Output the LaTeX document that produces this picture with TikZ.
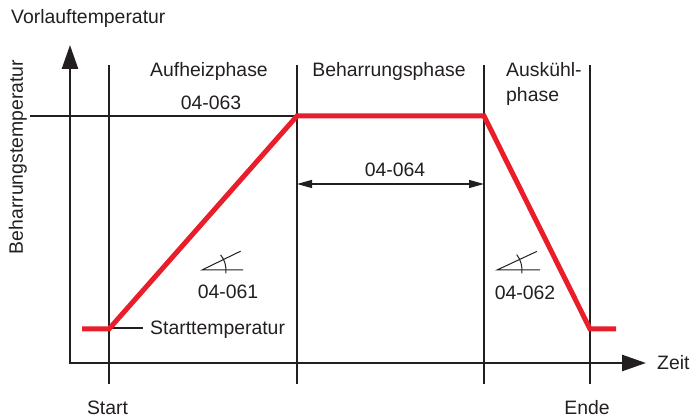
\documentclass[tikz,border=0pt]{standalone}
\usepackage{fontspec}
\setmainfont{Liberation Sans}
\usetikzlibrary{arrows.meta}
\definecolor{profred}{RGB}{232,30,42}
\definecolor{ink}{RGB}{35,31,32}
\begin{document}
\begin{tikzpicture}[x=1pt,y=-1pt,
  lbl/.style={inner sep=0pt, text=ink, font=\fontsize{19.4}{23}\selectfont, anchor=base},
  thinline/.style={draw=ink, line width=1.2pt},
  axisline/.style={draw=ink, line width=2.6pt, line join=miter,
    {Triangle[length=24pt,width=16pt]}-{Triangle[length=24pt,width=16pt]}},
  profile/.style={draw=profred, line width=5pt, line join=miter},
  dimline/.style={draw=ink, line width=1.2pt,
    {Triangle[length=15pt,width=8pt]}-{Triangle[length=15pt,width=8pt]}},
  anglesym/.style={draw=ink, line width=1pt},
]
\useasboundingbox (0,0) rectangle (691,419);

% axes
\coordinate (O) at (70,363);
\coordinate (Ytip) at (70,45);
\coordinate (Xtip) at (646,363);
\draw[axisline] (Ytip) -- (O) -- (Xtip);

% vertical phase lines
\coordinate (v1t) at (109,65);  \coordinate (v1b) at (109,384);
\coordinate (v2t) at (297,65);  \coordinate (v2b) at (297,384);
\coordinate (v3t) at (484,65);  \coordinate (v3b) at (484,384);
\coordinate (v4t) at (590,65);  \coordinate (v4b) at (590,384);
\draw[thinline] (v1t) -- (v1b);
\draw[thinline] (v2t) -- (v2b);
\draw[thinline] (v3t) -- (v3b);
\draw[thinline] (v4t) -- (v4b);

% Beharrungstemperatur level line
\coordinate (hl) at (30,116);
\coordinate (hr) at (297,116);
\draw[thinline] (hl) -- (hr);

% 04-064 dimension arrow
\coordinate (d1) at (297,184);
\coordinate (d2) at (484,184);
\draw[dimline] (d1) -- (d2);

% Starttemperatur leader
\coordinate (s1) at (109,328);
\coordinate (s2) at (143,328);
\draw[thinline] (s1) -- (s2);

% red profile
\coordinate (r0) at (82,329);
\coordinate (r1) at (109,329);
\coordinate (r2) at (297,116);
\coordinate (r3) at (484,116);
\coordinate (r4) at (590,329);
\coordinate (r5) at (616,329);
\draw[profile] (r0) -- (r1) -- (r2) -- (r3) -- (r4) -- (r5);

% angle symbols (y axis points down, so angles are mirrored)
\coordinate (a1) at (202,270);
\draw[anglesym] (243,270) -- (a1) -- +(-26:43);
\draw[anglesym] (a1) ++(8:24) arc[start angle=8, end angle=-39, radius=24];
\coordinate (a2) at (497,270);
\draw[anglesym] (540,270) -- (a2) -- +(-25:44);
\draw[anglesym] (a2) ++(8:25) arc[start angle=8, end angle=-38, radius=25];

% texts
\node[lbl, anchor=base west] (vt) at (11,24) {Vorlauftemperatur};
\node[lbl, rotate=90] (bt) at (23,157) {Beharrungstemperatur};
\node[lbl] (auf) at (209,77) {Aufheizphase};
\node[lbl] (n063) at (211,110) {04-063};
\node[lbl] (beh) at (389,77) {Beharrungsphase};
\node[lbl, anchor=base west] (aus1) at (506,77) {Auskühl-};
\node[lbl, anchor=base west] (aus2) at (506,102) {phase};
\node[lbl] (n064) at (395,177) {04-064};
\node[lbl] (n061) at (228,299) {04-061};
\node[lbl] (n062) at (525,300) {04-062};
\node[lbl, anchor=base west] (stt) at (150,335) {Starttemperatur};
\node[lbl, anchor=base west] (zeit) at (657,370) {Zeit};
\node[lbl] (start) at (107.5,415) {Start};
\node[lbl] (ende) at (587,415) {Ende};
\end{tikzpicture}
\end{document}
